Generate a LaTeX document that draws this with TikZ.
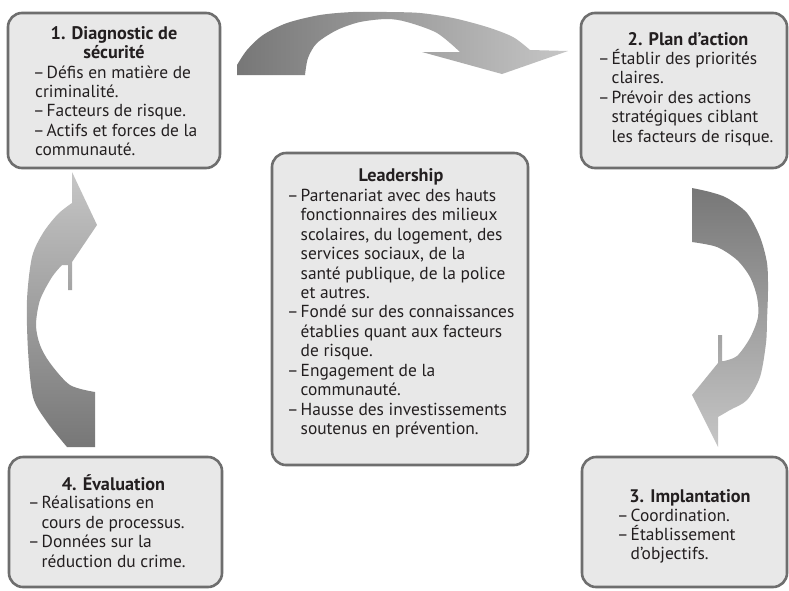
\documentclass[tikz,border=0pt]{standalone}
\usepackage{fontspec}
\setmainfont{PT Sans}
\definecolor{boxfill}{HTML}{E8E8E8}
\definecolor{boxline}{HTML}{6E6E6E}
\definecolor{arrdark}{HTML}{777777}
\definecolor{arrlight}{HTML}{C6C6C6}
\definecolor{txt}{HTML}{231F20}
\newcommand\itemdash{\makebox[13.5pt][l]{–}}
\newcommand\itemind{\hspace*{13.5pt}}
\begin{document}
\begin{tikzpicture}[x=1pt,y=-1pt,
  panel/.style={draw=boxline, line width=2.6pt, fill=boxfill, rounded corners=14pt},
  body/.style={align=left, inner sep=0pt, anchor=base west, text=txt, font=\fontsize{17.4}{19.45}\selectfont},
  ttl/.style={align=center, inner sep=0pt, anchor=base, text=txt, font=\fontsize{18.2}{19.45}\selectfont\bfseries},
  arrowfill/.style={draw=none}]
\useasboundingbox (0,0) rectangle (789,590);
\fill[white] (0,0) rectangle (789,590);

% boxes
\node[panel, minimum width=212pt, minimum height=155pt] (b1) at (114,90.5) {};
\node[panel, minimum width=206pt, minimum height=155pt] (b2) at (684,90.5) {};
\node[panel, minimum width=256pt, minimum height=312pt] (bc) at (400,309) {};
\node[panel, minimum width=213pt, minimum height=130pt] (b4) at (115.5,522) {};
\node[panel, minimum width=205pt, minimum height=130pt] (b3) at (684.5,522) {};

% arrows
\shade[arrowfill, left color=arrdark, right color=arrlight]
  (237,75) -- plot[smooth] coordinates {(237,65) (247,50) (263,35) (287,23) (320,15) (353,12) (387,12) (420,13) (453,18) (487,27) (513,37) (530,50)}
  -- (568,51) -- (502,74) -- (422,52) -- (460,52)
  -- plot[smooth] coordinates {(460,52) (437,33) (407,22) (387,19) (360,22) (337,30) (317,43) (308,58) (305,75)} -- cycle;

\shade[arrowfill, top color=arrlight, bottom color=arrdark]
  (72,172) -- (97,225) -- (72,262) -- (72,290) -- (68,290) -- (68,265)
  -- plot[smooth] coordinates {(62,265) (52,277) (40,300) (36,325) (40,345) (50,363) (70,385) (95,392)}
  -- (95,447) -- (67,447)
  -- plot[smooth] coordinates {(67,447) (47,422) (33,397) (28,350) (27,300) (32,257) (43,233) (58,214) (72,203)} -- cycle;

\shade[arrowfill, top color=arrdark, bottom color=arrlight]
  (692,188) -- plot[smooth] coordinates {(692,188) (710,192) (727,198) (747,213) (760,237) (767,263) (768,290) (767,320) (766,343) (760,377) (747,400) (730,410) (718,417)}
  -- (718,447) -- (692,395) -- (718,363) -- (718,335) -- (722,335) -- (722,361)
  -- plot[smooth] coordinates {(724,361) (737,356) (750,338) (758,317) (757,297) (750,277) (737,260) (717,247) (692,242)} -- cycle;

% texts (anchored at the baseline of the last line)
\node[ttl] (h1) at (114,58.5) {1. Diagnostic de\\sécurité};
\node[body] (t1) at (33,155.8) {\itemdash Défis en matière de\\\hspace*{2pt}criminalité.\\\itemdash Facteurs de risque.\\\itemdash Actifs et forces de la\\\hspace*{2pt}communauté.};

\node[ttl] (h2) at (688,45) {2. Plan d’action};
\node[body] (t2) at (598,142.3) {\itemdash Établir des priorités\\\itemind claires.\\\itemdash Prévoir des actions\\\itemind stratégiques ciblant\\\itemind les facteurs de risque.};

\node[ttl] (hc) at (401,181.7) {Leadership};
\node[body] (tc) at (287,434.6) {\itemdash Partenariat avec des hauts\\\itemind fonctionnaires des milieux\\\itemind scolaires, du logement, des\\\itemind services sociaux, de la\\\itemind santé publique, de la police\\\itemind et autres.\\\itemdash Fondé sur des connaissances\\\itemind établies quant aux facteurs\\\itemind de risque.\\\itemdash Engagement de la\\\itemind communauté.\\\itemdash Hausse des investissements\\\itemind soutenus en prévention.};

\node[ttl] (h4) at (113.5,490) {4. Évaluation};
\node[body] (t4) at (28,567.3) {\itemdash Réalisations en\\\itemind cours de processus.\\\itemdash Données sur la\\\itemind réduction du crime.};

\node[ttl] (h3) at (690,502.5) {3. Implantation};
\node[body] (t3) at (617,559.9) {\itemdash Coordination.\\\itemdash Établissement\\\itemind d’objectifs.};
\end{tikzpicture}
\end{document}
